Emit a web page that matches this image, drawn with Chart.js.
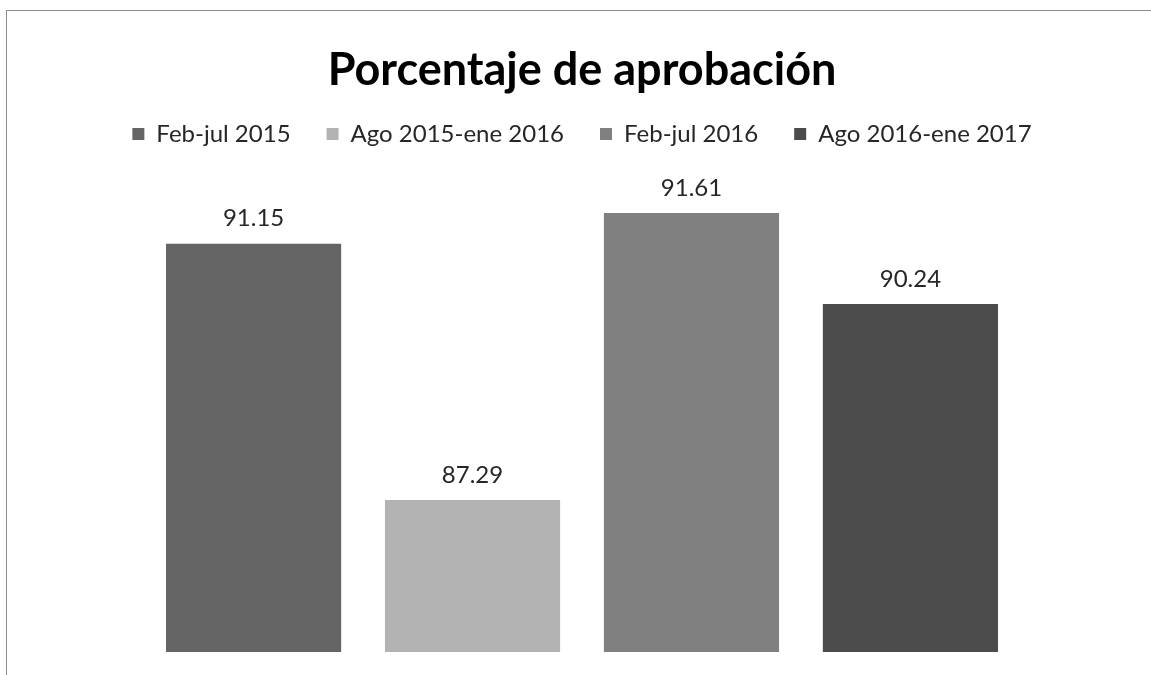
<!DOCTYPE html>
<html>
<head>
<meta charset="utf-8">
<script src="https://cdn.jsdelivr.net/npm/chart.js@4"></script>
<style>
  body { margin: 0; background: #fff; }
  #wrap { position: relative; width: 1151px; height: 675px; overflow: hidden; }
  #frame { position: absolute; left: 6px; top: 10px; width: 1200px; height: 700px; border: 1px solid #8c8c8c; }
  canvas { position: absolute; left: 0; top: 0; }
</style>
</head>
<body>
<div id="wrap">
  <div id="frame"></div>
  <canvas id="chart" width="1151" height="675"></canvas>
</div>
<script>
const chartTitle = "Porcentaje de aprobación";
const periods = ["Feb-jul 2015", "Ago 2015-ene 2016", "Feb-jul 2016", "Ago 2016-ene 2017"];
const approval = [91.15, 87.29, 91.61, 90.24];
const barColors = ["#646464", "#b3b3b3", "#808080", "#4b4b4b"];

const fontFamily = "Lato, 'Liberation Sans', sans-serif";

// value labels above each bar
const valueLabels = {
  id: "valueLabels",
  afterDatasetsDraw(chart) {
    const ctx = chart.ctx;
    ctx.save();
    ctx.font = "24px " + fontFamily;
    ctx.fillStyle = "#262626";
    ctx.textAlign = "center";
    ctx.textBaseline = "bottom";
    chart.data.datasets.forEach((ds, i) => {
      const bar = chart.getDatasetMeta(i).data[0];
      ctx.fillText(ds.data[0].toFixed(2), bar.x, bar.y - 13);
    });
    ctx.restore();
  }
};

new Chart(document.getElementById("chart"), {
  type: "bar",
  data: {
    labels: [""],
    datasets: periods.map((p, i) => ({
      label: p,
      data: [approval[i]],
      backgroundColor: barColors[i]
    }))
  },
  options: {
    responsive: false,
    animation: false,
    layout: { padding: { left: 17, right: 4, top: 0, bottom: 23 } },
    datasets: { bar: { categoryPercentage: 0.775, barPercentage: 0.8 } },
    scales: {
      x: { display: false },
      y: { display: false, min: 85, max: 92.47 }
    },
    plugins: {
      title: {
        display: true,
        text: chartTitle,
        color: "#000",
        font: { family: fontFamily, size: 45, weight: "bold", lineHeight: 0.8 },
        padding: { top: 52, bottom: -2 }
      },
      legend: {
        display: true,
        labels: {
          color: "#262626",
          font: { family: fontFamily, size: 24 },
          boxWidth: 12,
          boxHeight: 12,
          padding: 36
        }
      },
      tooltip: { enabled: false }
    }
  },
  plugins: [valueLabels]
});
</script>
</body>
</html>
